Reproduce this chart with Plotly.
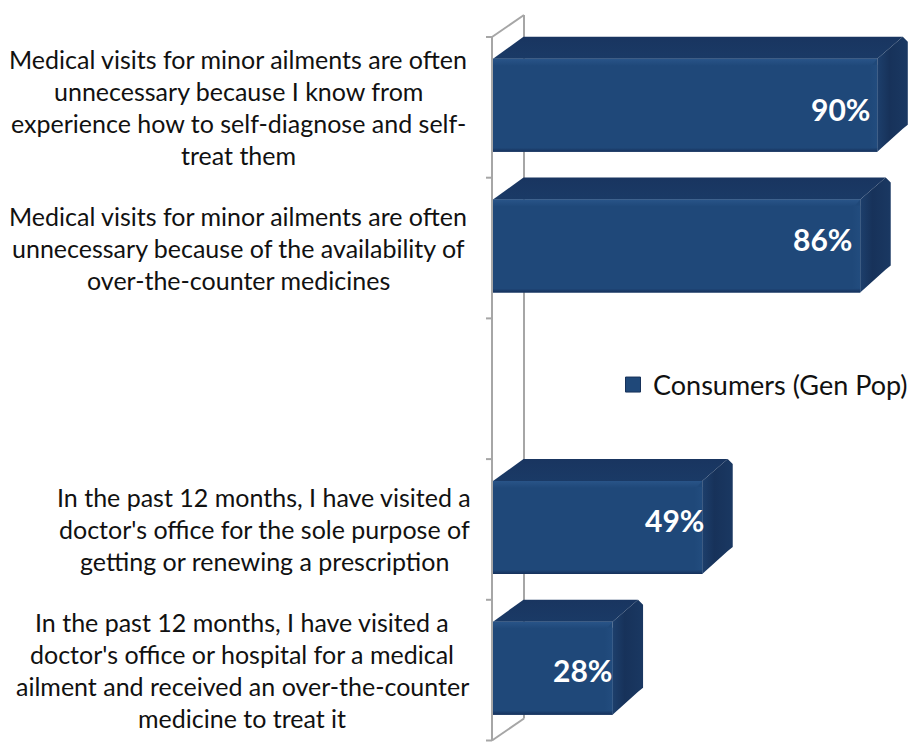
import plotly.graph_objects as go

# ---- data ----
categories = [
    "Medical visits for minor ailments are often<br>unnecessary because I know from<br>experience how to self-diagnose and self-<br>treat them",
    "Medical visits for minor ailments are often<br>unnecessary because of the availability of<br>over-the-counter medicines",
    "",
    "In the past 12 months, I have visited a<br>doctor's office for the sole purpose of<br>getting or renewing a prescription",
    "In the past 12 months, I have visited a<br>doctor's office or hospital for a medical<br>ailment and received an over-the-counter<br>medicine to treat it",
]
values = [90, 86, None, 49, 28]
series_name = "Consumers (Gen Pop)"

# ---- layout constants (pixels of the 912x743 page) ----
W, H = 912, 743
PX_X = 4.27      # px per percentage point
PX_Y = 140.7     # px per category band
X0_PX = 493
Y0_PX = 740.5
xr = [-X0_PX / PX_X, (W - X0_PX) / PX_X]
yr = [(Y0_PX - H) / PX_Y, Y0_PX / PX_Y]
DX = 30.5 / PX_X
DY = 22 / PX_Y
BW = 93 / PX_Y
OFF = 2.0 / PX_Y
LABEL_CX_PX = [238, 238, 0, 264, 242]
LINE_PX = 32
VALUE_XSHIFT = [-5, -6, 0, 4, 1]
VALUE_YSHIFT = [-3.5, 7.5, 0, 7.5, -2]
FONT = "Lato"
n = len(categories)
band = [n - 1 - i + 0.5 for i in range(n)]
pos = [b + OFF for b in band]
px = lambda p: p / PX_X
py = lambda p: p / PX_Y
BLUE = "#1f4879"
INK = "#111111"

fig = go.Figure()

# front faces, real bars
fig.add_trace(go.Bar(
    x=values, y=pos, orientation="h", width=BW, name=series_name,
    marker=dict(color=BLUE, line=dict(width=0)), showlegend=False, hoverinfo="skip",
))


def poly(xs, ys, kind, scale):
    fig.add_trace(go.Scatter(
        x=xs, y=ys, mode="lines", line=dict(width=0), fill="toself",
        fillgradient=dict(type=kind, colorscale=scale),
        showlegend=False, hoverinfo="skip",
    ))


for v, p in zip(values, pos):
    if v is None:
        continue
    t, b = p + BW / 2, p - BW / 2
    r = px(5)
    s = py(5)
    # top face
    poly([0, v, v + DX - r, DX],
         [t, t, t + DY, t + DY],
         "vertical", [[0, "#1a3a66"], [1, "#193560"]])
    # side face
    poly([v, v + DX - r, v + DX, v + DX, v + DX - r, v],
         [t, t + DY, t + DY - s, b + DY + s, b + DY + s * 0.2, b],
         "horizontal", [[0, "#1d3f6c"], [0.4, "#17325a"], [1, "#1a3862"]])
    # bevel highlights on the front face
    poly([0, v, v - px(6), 0], [t, t, t - py(7), t - py(7)],
         "vertical", [[0, "#1f4879"], [1, "#295488"]])
    poly([v - px(8), v, v, v - px(8)], [t - py(6), t - py(6), b + py(3), b + py(3)],
         "horizontal", [[0, "#1f4879"], [1, "#224c7e"]])
    poly([0, v, v, 0], [b + py(4), b + py(4), b, b],
         "vertical", [[0, "#16305a"], [1, "#1f4879"]])

# legend entry with a larger square key
fig.add_trace(go.Scatter(
    x=[None], y=[None], mode="markers", name=series_name, showlegend=True, hoverinfo="skip",
    marker=dict(symbol="square", size=15, color=BLUE, line=dict(color="#17325a", width=1)),
))

shapes = []
GREY = "#a6a6a6"


def seg(x0, y0, x1, y1):
    shapes.append(dict(type="line", xref="x", yref="y", x0=x0, y0=y0, x1=x1, y1=y1,
                       layer="below", line=dict(color=GREY, width=2)))


ax_x = -px(1)
wall = 31 / PX_X
seg(ax_x, 0, ax_x, n)
seg(wall, DY, wall, n + DY)
seg(ax_x, n, wall, n + DY)
seg(ax_x, 0, wall, DY)
for i in range(n + 1):
    seg(ax_x - px(6), i, ax_x, i)

annotations = []
for cat, b, cx in zip(categories, band, LABEL_CX_PX):
    if not cat:
        continue
    lines = cat.split("<br>")
    for j, line in enumerate(lines):
        annotations.append(dict(
            x=(cx - X0_PX) / PX_X, y=b + py(((len(lines) - 1) / 2 - j) * LINE_PX),
            xref="x", yref="y", text=line, showarrow=False, xanchor="center", yanchor="middle",
            font=dict(family=FONT, size=25, color=INK),
        ))
for v, p, xs, ys in zip(values, pos, VALUE_XSHIFT, VALUE_YSHIFT):
    if v is None:
        continue
    annotations.append(dict(
        x=v, y=p, xref="x", yref="y", text=f"<b>{v}%</b>", showarrow=False,
        xanchor="right", yanchor="middle", xshift=xs, yshift=ys,
        font=dict(family=FONT, size=30, color="white"),
    ))

fig.update_layout(
    width=W, height=H, margin=dict(l=0, r=0, t=0, b=0, autoexpand=False),
    paper_bgcolor="white", plot_bgcolor="white",
    xaxis=dict(range=xr, visible=False, fixedrange=True),
    yaxis=dict(range=yr, visible=False, fixedrange=True),
    barmode="overlay",
    shapes=shapes, annotations=annotations,
    legend=dict(x=613 / W, y=1 - 385 / H, xanchor="left", yanchor="middle",
                bgcolor="rgba(0,0,0,0)", font=dict(family=FONT, size=27, color=INK)),
)

fig.write_html("out.html", config={"displayModeBar": False},
               post_script="document.body.style.margin='0';document.body.style.overflow='hidden';")
